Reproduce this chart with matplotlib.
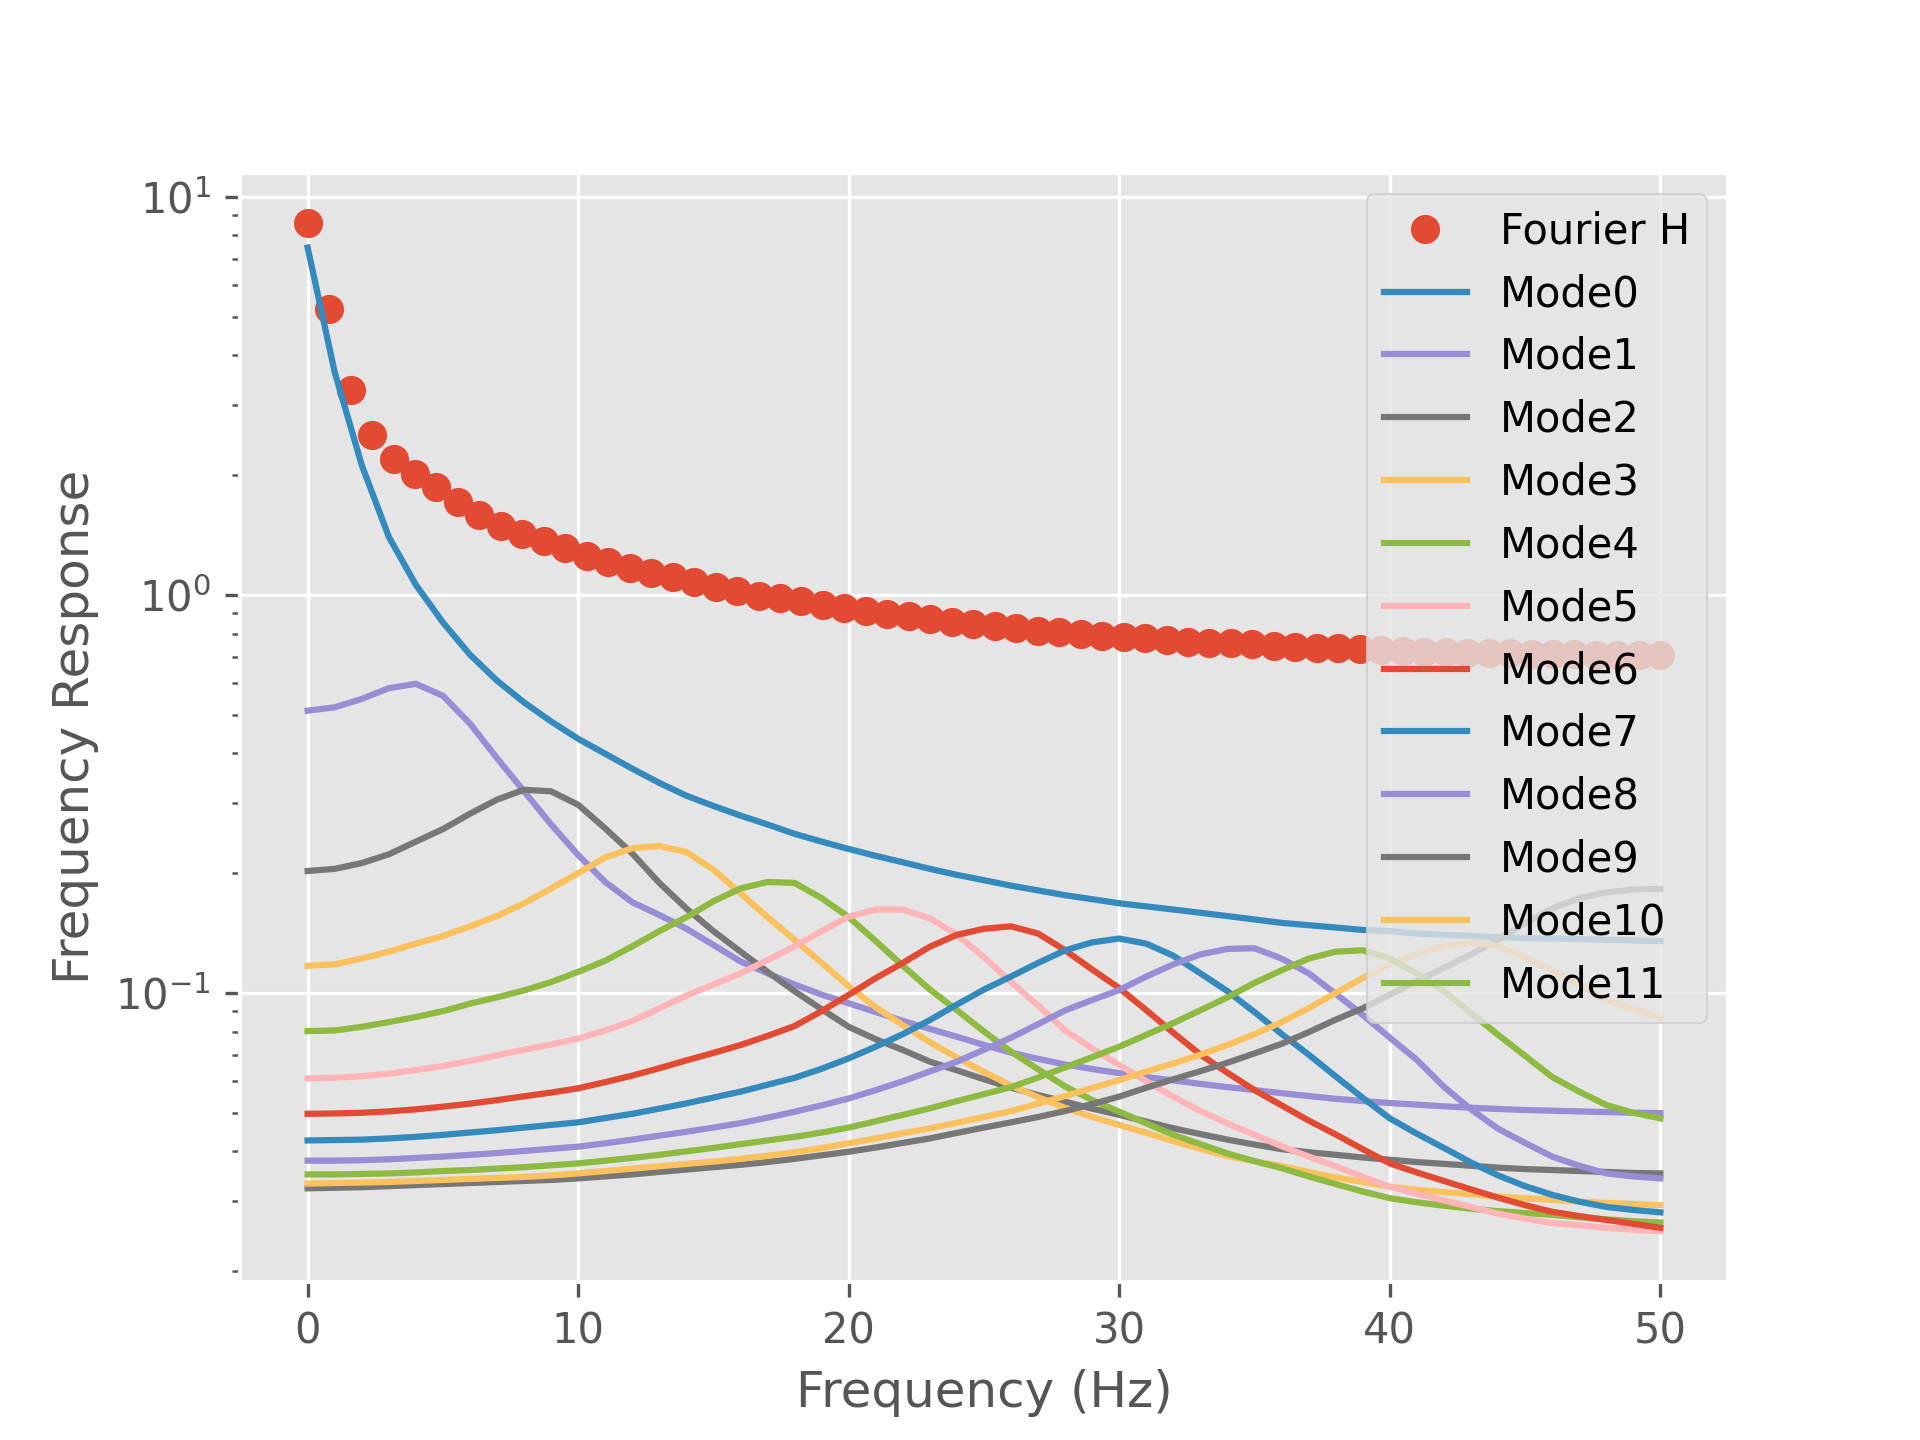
import numpy as np
import matplotlib
matplotlib.use("Agg")
import matplotlib.pyplot as plt

# Fourier H samples (64 equally spaced frequencies from 0 to 50 Hz)
fourier_freq = np.linspace(0, 50, 64)
fourier_h = [8.59, 5.22, 3.27, 2.52, 2.19, 2.01, 1.87, 1.71, 1.59, 1.49, 1.42, 1.37,
             1.31, 1.256, 1.208, 1.167, 1.134, 1.108, 1.076, 1.047, 1.022, 0.994, 0.981,
             0.966, 0.944, 0.926, 0.912, 0.896, 0.886, 0.870, 0.854, 0.846, 0.836, 0.825,
             0.814, 0.806, 0.797, 0.790, 0.786, 0.778, 0.771, 0.763, 0.759, 0.756, 0.753,
             0.744, 0.742, 0.735, 0.735, 0.731, 0.728, 0.723, 0.720, 0.720, 0.716, 0.714,
             0.714, 0.711, 0.711, 0.710, 0.707, 0.707, 0.707, 0.707]

# frequencies (Hz) at which the mode curves were read
mode_freq = list(range(0, 51))

mode0 = [7.46, 3.63, 2.12, 1.40, 1.06, 0.853, 0.708, 0.609, 0.537, 0.481,
         0.435, 0.399, 0.366, 0.337, 0.313, 0.295, 0.279, 0.265, 0.251, 0.240,
         0.230, 0.221, 0.213, 0.205, 0.198, 0.192, 0.186, 0.181, 0.176, 0.172,
         0.168, 0.165, 0.162, 0.159, 0.156, 0.153, 0.150, 0.148, 0.146, 0.144,
         0.143, 0.141, 0.140, 0.139, 0.138, 0.1375, 0.137, 0.1365, 0.136, 0.1355,
         0.135]
mode1 = [.512, .522, .548, .583, .598, .558, .475, .389, .321, .265,
         .222, .190, .169, .157, .145, .132, .120, .112, .105, .099,
         .0942, .0895, .0851, .0812, .0776, .0740, .0708, .0683, .0661, .0644,
         .0629, .0615, .0603, .0591, .0580, .0570, .0560, .0551, .0542, .0535,
         .0529, .0524, .0519, .0515, .0511, .0508, .0506, .0504, .0502, .0500,
         .0499]
mode2 = [.2025, .205, .212, .223, .240, .258, .282, .306, .324, .321,
         .297, .259, .224, .189, .163, .143, .127, .113, .101, .091,
         .0822, .0765, .0719, .0672, .0639, .0607, .0578, .0554, .0533, .0512,
         .0494, .0475, .0457, .0442, .0428, .0416, .0405, .0398, .0392, .0386,
         .0381, .0376, .0372, .0368, .0364, .0361, .0359, .0357, .0355, .0353,
         .0352]
mode3 = [.117, .118, .122, .127, .133, .139, .147, .156, .168, .183,
         .200, .219, .231, .234, .226, .204, .178, .155, .136, .119,
         .104, .092, .0830, .0752, .0688, .0633, .0585, .0547, .0514, .0488,
         .0466, .0445, .0424, .0406, .0389, .0378, .0367, .0355, .0344, .0335,
         .0326, .0320, .0316, .0312, .0308, .0305, .0302, .0299, .0297, .0295,
         .0293]
mode4 = [.0802, .0805, .0822, .0845, .0870, .0900, .0940, .0975, .1015, .1065,
         .113, .1205, .131, .143, .155, .170, .183, .190, .189, .173,
         .155, .135, .117, .102, .0905, .080, .0712, .0643, .0582, .0538,
         .0503, .0470, .0440, .0417, .0395, .0378, .0363, .0346, .0331, .0317,
         .0305, .0298, .0292, .0287, .0283, .0280, .0277, .0273, .0270, .0267,
         .0265]
mode5 = [.0610, .0612, .0618, .0627, .0640, .0655, .0675, .0697, .0720, .0742,
         .0768, .0805, .0850, .0915, .0985, .105, .112, .121, .131, .143,
         .1555, .162, .162, .154, .140, .123, .1065, .093, .0805, .0725,
         .0659, .0600, .0548, .0505, .0470, .0440, .0412, .0388, .0367, .0345,
         .0326, .0313, .0301, .0290, .0279, .0271, .0264, .0261, .0257, .0254,
         .0252]
mode6 = [.0497, .0498, .0500, .0504, .0510, .0518, .0527, .0538, .0550, .0562,
         .0576, .0597, .0620, .0647, .0677, .0707, .0740, .0780, .0826, .090,
         .0989, .109, .119, .1307, .140, .145, .147, .141, .128, .1145,
         .1028, .0905, .0794, .0700, .0630, .0570, .0522, .0478, .0441, .0405,
         .0373, .0354, .0337, .0321, .0306, .0293, .0282, .0275, .0269, .0263,
         .0257]
mode7 = [.0426, .0427, .0428, .0431, .0435, .0440, .0446, .0452, .0459, .0466,
         .0473, .0485, .0497, .0512, .0528, .0546, .0565, .0588, .0612, .0645,
         .0685, .0733, .0788, .0855, .0935, .102, .110, .119, .128, .134,
         .137, .133, .124, .112, .101, .0895, .0789, .070, .0617, .0545,
         .0484, .0443, .0408, .0375, .0348, .0327, .0311, .0299, .0290, .0285,
         .0281]
mode8 = [.0379, .0379, .0380, .0382, .0385, .0388, .0392, .0396, .0401, .0406,
         .0411, .0419, .0428, .0438, .0448, .0459, .0471, .0486, .0503, .0522,
         .0543, .0570, .0600, .0635, .0672, .0720, .0772, .0835, .0904, .0960,
         .1017, .110, .118, .125, .129, .1295, .122, .112, .0995, .088,
         .0772, .0679, .0581, .0510, .0456, .0420, .0388, .0368, .0352, .0346,
         .0342]
mode9 = [.0323, .0324, .0325, .0327, .0329, .0331, .0333, .0335, .0337, .0339,
         .0342, .0346, .0350, .0355, .0360, .0365, .0370, .0376, .0383, .0391,
         .0399, .0409, .0420, .0431, .0445, .0459, .0473, .0488, .0505, .0526,
         .0549, .0578, .0607, .0636, .0668, .0705, .0745, .0797, .0857, .0915,
         .099, .107, .1156, .125, .136, .150, .163, .173, .179, .182,
         .1825]
mode10 = [.0332, .0333, .0334, .0335, .0337, .0339, .0341, .0343, .0345, .0348,
          .0352, .0357, .0362, .0367, .0372, .0377, .0383, .0390, .0398, .0408,
          .0419, .0431, .0444, .0457, .0472, .0488, .0505, .0527, .0551, .0577,
          .0604, .0635, .0665, .0700, .0740, .0788, .0845, .0915, .100, .109,
          .118, .125, .131, .134, .131, .123, .114, .105, .096, .091,
          .0864]
mode11 = [.0350, .0350, .0351, .0352, .0354, .0357, .0359, .0362, .0365, .0369,
          .0373, .0379, .0385, .0392, .0400, .0408, .0417, .0426, .0435, .0446,
          .0459, .0476, .0494, .0513, .0535, .0557, .0580, .0613, .0650, .0690,
          .0733, .0785, .0840, .0905, .0975, .106, .114, .122, .127, .128,
          .122, .112, .101, .089, .0785, .0695, .0615, .0565, .0523, .0500,
          .0484]

modes = [mode0, mode1, mode2, mode3, mode4, mode5, mode6, mode7, mode8, mode9,
         mode10, mode11]
mode_labels = ["Mode%d" % i for i in range(len(modes))]

plt.style.use("ggplot")
fig, ax = plt.subplots(figsize=(6.4, 4.8), dpi=300)

ax.plot(fourier_freq, fourier_h, "o", label="Fourier H")
for vals, lab in zip(modes, mode_labels):
    ax.plot(mode_freq, vals, label=lab)

ax.set_yscale("log")
ax.set_xlabel("Frequency (Hz)")
ax.set_ylabel("Frequency Response")
ax.legend(loc="upper right")

fig.savefig("out.png", dpi=300)
